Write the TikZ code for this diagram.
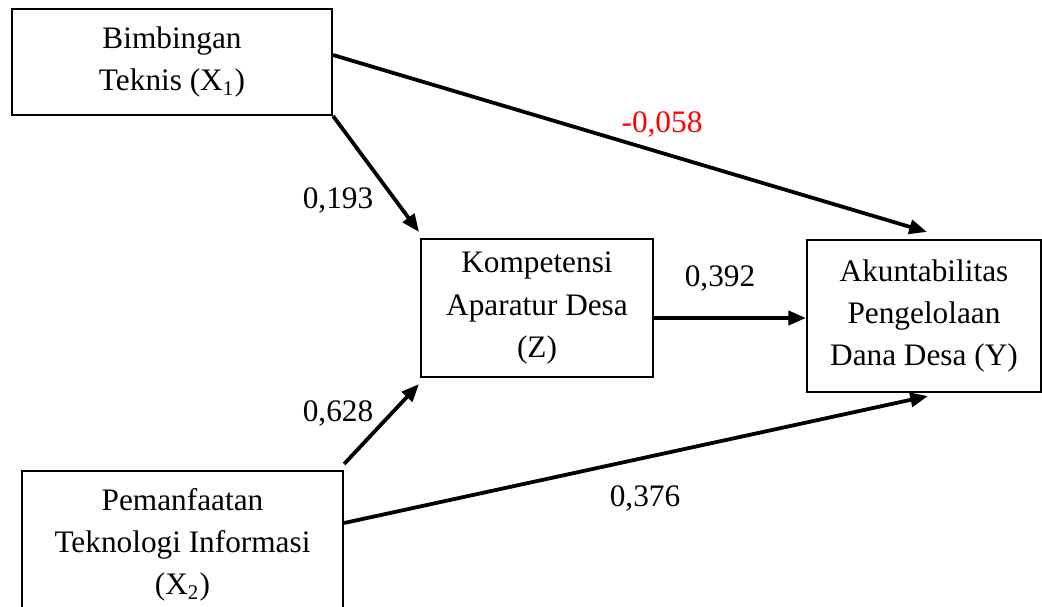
\documentclass[tikz,border=0pt]{standalone}
\usepackage{fontspec}
\setmainfont{Liberation Serif}
\usetikzlibrary{arrows.meta,calc}

\begin{document}
\begin{tikzpicture}[x=0.3834pt, y=-0.3834pt, font=\fontsize{12}{16.2}\selectfont]
    \tikzstyle{variabel} = [rectangle, draw, line width=0.8pt, align=center, inner sep=0pt]
    \tikzstyle{jalur} = [line width=1.45pt, -{Triangle[length=6.8pt, width=5.4pt]}]
    \tikzstyle{koef} = [inner sep=1pt]

    \clip (0,0) rectangle (1042,606);

    % Variabel penelitian
    \node[variabel, minimum width=122.7pt, minimum height=40.6pt] (x1) at (172,62) {Bimbingan\\Teknis (X\textsubscript{1})};
    \node[variabel, minimum width=123.1pt, minimum height=56.7pt] (x2) at (182.5,545) {Pemanfaatan\\Teknologi Informasi\\(X\textsubscript{2})};
    \node[variabel, minimum width=88.9pt, minimum height=52.9pt] (z) at (537,308) {Kompetensi\\Aparatur Desa\\(Z)};
    \node[variabel, minimum width=89.7pt, minimum height=58.3pt] (y) at (924,316) {Akuntabilitas\\Pengelolaan\\Dana Desa (Y)};

    % Jalur
    \draw[jalur] ($(x1.east)+(0,-7)$) -- ($(y.north)+(3,-7)$);
    \draw[jalur] (x1.south east) -- ($(z.north west)+(-1,-6)$);
    \draw[jalur] ($(x2.north east)+(0,-6)$) -- ($(z.south west)+(-1,6)$);
    \draw[jalur] ($(z.east)+(0,10)$) -- ($(y.west)+(0,2)$);
    \draw[jalur] ($(x2.east)+(0,-22)$) -- ($(y.south)+(4,3)$);

    % Koefisien jalur
    \node[koef, text=red] (k1) at (662,124) {-0,058};
    \node[koef] (k2) at (338,200) {0,193};
    \node[koef] (k3) at (720,278) {0,392};
    \node[koef] (k4) at (338,413) {0,628};
    \node[koef] (k5) at (645,498) {0,376};
\end{tikzpicture}
\end{document}
